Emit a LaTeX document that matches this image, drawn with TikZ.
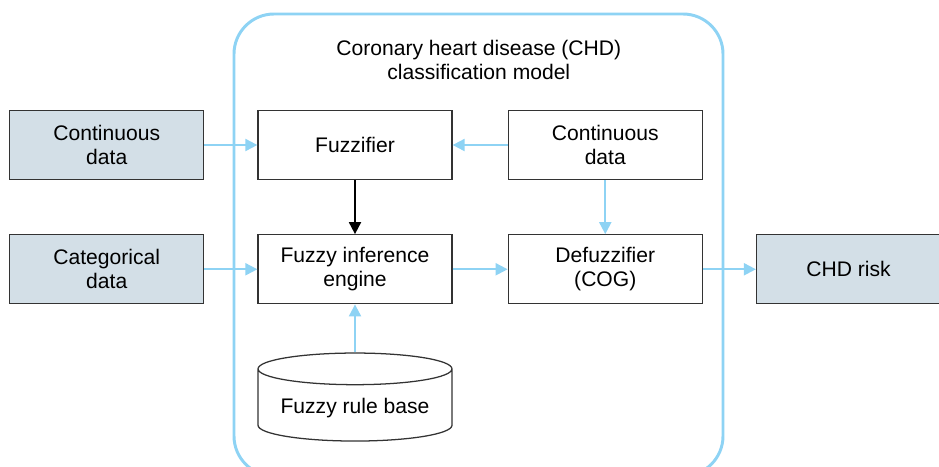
\documentclass[tikz,border=0pt]{standalone}
\usepackage{fontspec}
\setmainfont{Liberation Sans}
\usetikzlibrary{arrows.meta, positioning, shapes.geometric}
\definecolor{cframe}{HTML}{8ED3F4}
\definecolor{cfill}{HTML}{D3DFE7}
\definecolor{cline}{HTML}{333333}
\tikzset{
  every picture/.style={font=\fontsize{15}{17}\selectfont},
  box/.style={draw=cline, fill=#1, line width=0.9pt, align=center, minimum width=4.85cm, minimum height=1.725cm, inner sep=2pt},
  box/.default=white,
  store/.style={draw=cline, line width=0.9pt, cylinder, shape border rotate=90, aspect=0.2, minimum width=4.85cm, minimum height=2.2cm},
  arrow/.style={-{Triangle[length=3mm, width=3mm]}, draw=cframe, fill=cframe, line width=0.05cm},
  blackarrow/.style={-{Triangle[length=3mm, width=3mm]}, draw=black, line width=0.045cm},
}
\begin{document}
\begin{tikzpicture}[node distance=1.35cm]
  \useasboundingbox (0,0) rectangle (23.475,-11.65);
  % model frame, cut off at the bottom
  \draw[cframe, line width=2.1pt, rounded corners=1cm] (5.85,-11.9) rectangle (18.075,-0.35);
  \node (title) at (11.97,-1.51) [align=center] {Coronary heart disease (CHD)\\classification model};

  \node[box] (fuzz) at (8.875,-3.625) {Fuzzifier};
  \node[box=cfill, left=1.325cm of fuzz] (contin) {Continuous\\data};
  \node[box, right=1.375cm of fuzz] (contright) {Continuous\\data};
  \node[box, below=of fuzz] (infer) {Fuzzy inference\\engine};
  \node[box=cfill, left=1.325cm of infer] (categ) {Categorical\\data};
  \node[box, right=1.375cm of infer] (defuzz) {Defuzzifier\\(COG)};
  \node[box=cfill, minimum width=4.6cm, right=1.325cm of defuzz] (risk) {CHD risk};
  \node[store, below=1.2cm of infer] (rules) {Fuzzy rule base};

  \draw[arrow] (contin) -- (fuzz);
  \draw[arrow] (contright) -- (fuzz);
  \draw[arrow] (contright) -- (defuzz);
  \draw[arrow] (categ) -- (infer);
  \draw[arrow] (infer) -- (defuzz);
  \draw[arrow] (defuzz) -- (risk);
  \draw[arrow] (rules) -- (infer);
  \draw[blackarrow] (fuzz) -- (infer);
\end{tikzpicture}
\end{document}
